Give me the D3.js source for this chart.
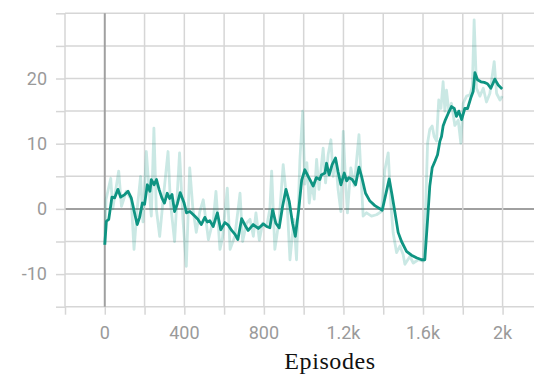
<!DOCTYPE html>
<html>
<head>
<meta charset="utf-8">
<script src="https://cdn.jsdelivr.net/npm/d3@7"></script>
<style>
  body { margin: 0; background: #fff; }
  .tick-label { font-family: Roboto, "Open Sans", sans-serif; font-size: 18px; fill: #9a9a9a; }
  .axis-title { font-family: "Liberation Serif", "DejaVu Serif", serif; font-size: 24px; letter-spacing: 0.6px; fill: #111; }
</style>
</head>
<body>
<svg id="chart" width="534" height="374"></svg>
<script>
// smoothed curve (episode, reward)
const smoothX = [0, 8, 20, 36, 50, 66, 80, 100, 117, 133, 153, 163, 175, 189, 200, 214, 227, 234, 248, 260, 273, 287, 300, 314, 326, 338, 351, 365, 379, 398, 411, 428, 452, 468, 485, 503, 515, 528, 545, 566, 583, 604, 621, 638, 655, 669, 688, 705, 721, 746, 772, 797, 814, 830, 844, 860, 877, 894, 911, 927, 944, 958, 975, 990, 1006, 1026, 1048, 1064, 1081, 1089, 1107, 1115, 1128, 1143, 1160, 1173, 1187, 1204, 1216, 1227, 1244, 1261, 1278, 1291, 1311, 1333, 1358, 1395, 1411, 1430, 1445, 1459, 1475, 1492, 1517, 1542, 1567, 1593, 1609, 1623, 1634, 1646, 1660, 1673, 1685, 1693, 1701, 1713, 1726, 1743, 1757, 1768, 1780, 1794, 1810, 1824, 1840, 1852, 1861, 1874, 1891, 1908, 1924, 1941, 1961, 1978, 1998];
const smoothY = [-5.5, -1.9, -1.6, 1.8, 1.7, 3.0, 1.8, 2.2, 2.7, 1.7, -1.1, -2.4, -1.3, 0.9, 0.7, 3.7, 2.7, 4.5, 3.7, 4.5, 3.0, 1.7, 0.9, 2.4, 1.6, 2.2, -0.4, 0.8, 2.5, 1.0, -0.6, -0.4, -1.1, -1.6, -2.4, -1.3, -2.0, -1.8, -2.7, -0.6, -3.2, -2.1, -2.5, -3.3, -3.9, -4.7, -1.5, -2.5, -3.3, -2.4, -3.0, -2.3, -2.7, -2.9, -0.1, -2.2, -2.9, 0.4, 3.0, 1.2, -2.2, -4.2, -0.1, 4.4, 6.0, 4.8, 3.5, 4.8, 4.5, 5.2, 5.5, 7.0, 5.2, 6.8, 7.8, 5.7, 3.7, 5.5, 4.3, 4.8, 4.5, 3.7, 6.4, 5.0, 2.4, 1.2, 0.5, -0.2, 2.0, 4.6, 2.0, -0.6, -3.6, -5.0, -6.5, -7.1, -7.5, -7.8, -7.8, -1.6, 3.5, 6.3, 7.3, 8.3, 10.4, 11.1, 12.7, 13.7, 14.6, 15.7, 15.4, 14.2, 15.0, 13.7, 15.4, 15.4, 17.0, 18.0, 20.9, 19.8, 19.5, 19.4, 19.2, 18.5, 19.9, 19.0, 18.4];

// raw values (faint line)
const rawX = [0, 6, 30, 40, 70, 84, 108, 133, 147, 163, 180, 192, 209, 220, 234, 247, 259, 276, 292, 318, 330, 351, 376, 393, 410, 427, 443, 460, 477, 495, 521, 546, 559, 579, 592, 616, 630, 654, 680, 693, 713, 730, 747, 760, 777, 794, 814, 830, 839, 855, 877, 897, 917, 931, 951, 964, 981, 995, 1006, 1016, 1028, 1040, 1053, 1065, 1077, 1098, 1110, 1123, 1137, 1148, 1160, 1173, 1187, 1199, 1210, 1220, 1237, 1254, 1278, 1291, 1299, 1316, 1341, 1366, 1391, 1408, 1425, 1438, 1450, 1467, 1484, 1500, 1509, 1534, 1551, 1576, 1601, 1613, 1623, 1634, 1646, 1656, 1668, 1679, 1690, 1701, 1710, 1718, 1730, 1743, 1760, 1777, 1790, 1802, 1819, 1836, 1848, 1857, 1869, 1886, 1903, 1919, 1936, 1958, 1970, 1987, 1998];
const rawY = [-5.5, 1.4, 4.7, 0.0, 5.8, 0.4, 2.7, 1.4, -6.2, 0.0, 5.0, -2.0, 8.8, 4.1, -1.1, 12.4, 0.0, -4.2, 1.0, 8.8, 1.0, -5.0, 8.6, -1.6, -8.8, 6.3, 0.0, -3.6, -0.5, 1.4, -4.7, -1.6, 2.7, -6.2, -4.4, 3.2, -6.2, -4.2, 2.4, -5.0, -2.2, -1.6, -4.2, -0.6, -4.8, -2.2, -2.7, 0.0, 5.8, -6.2, -1.6, 6.8, 0.7, -7.8, -1.6, -7.8, 7.5, 15.0, 3.8, 7.1, 0.9, 4.0, 1.5, 7.6, 3.0, 9.3, 4.0, 8.3, 10.6, 5.0, 7.8, 3.0, -0.4, 11.9, 4.5, -0.6, 6.3, 3.5, 11.4, 3.5, -1.1, -0.6, -1.1, -0.9, -0.4, 6.0, 8.6, 0.9, -3.7, -6.7, -5.7, -7.0, -8.5, -7.3, -8.3, -7.8, -8.0, -0.1, 10.1, 12.2, 12.7, 11.1, 10.4, 16.7, 15.4, 19.5, 15.0, 18.2, 14.9, 16.2, 12.8, 13.6, 10.1, 16.2, 17.3, 17.5, 18.8, 29.0, 18.5, 17.3, 18.5, 16.4, 17.7, 22.6, 17.7, 16.7, 17.3];

const xGrid = [-200, 0, 200, 400, 600, 800, 1000, 1200, 1400, 1600, 1800, 2000];
const xLabelTicks = [0, 400, 800, 1200, 1600, 2000];
const yGrid = [-15, -10, -5, 0, 5, 10, 15, 20, 25, 30];
const yLabelTicks = [-10, 0, 10, 20];

const color = "#0e9482";
const gridColor = "#d6d6d6";
const zeroColor = "#a0a0a0";
const plotLeft = 65, plotRight = 534.4, plotTop = 13.3, plotBottom = 306.7;

const svg = d3.select("#chart");
const x = d3.scaleLinear().domain([-200, 2160]).range([plotLeft, plotRight]);
const y = d3.scaleLinear().domain([-15, 30]).range([plotBottom, plotTop]);

// horizontal grid (with tick stubs on the left)
svg.append("g")
  .attr("transform", `translate(${plotLeft},0)`)
  .call(d3.axisLeft(y).tickValues(yGrid).tickSize(9).tickFormat(""))
  .call((g) => g.select(".domain").remove())
  .call((g) => g.selectAll(".tick line").attr("stroke", gridColor).attr("stroke-width", 1.5));
svg.append("g")
  .call((g) => g.selectAll("line").data(yGrid).join("line")
    .attr("x1", plotLeft).attr("x2", plotRight)
    .attr("y1", (d) => y(d)).attr("y2", (d) => y(d))
    .attr("stroke", (d) => d === 0 ? zeroColor : gridColor)
    .attr("stroke-width", (d) => d === 0 ? 2 : 1.5));

// vertical grid (with tick stubs below)
svg.append("g")
  .attr("transform", `translate(0,${plotBottom})`)
  .call(d3.axisBottom(x).tickValues(xGrid).tickSize(8).tickFormat(""))
  .call((g) => g.select(".domain").remove())
  .call((g) => g.selectAll(".tick line").attr("stroke", gridColor).attr("stroke-width", 1.5));
svg.append("g")
  .call((g) => g.selectAll("line").data(xGrid).join("line")
    .attr("x1", (d) => x(d)).attr("x2", (d) => x(d))
    .attr("y1", plotTop).attr("y2", plotBottom)
    .attr("stroke", (d) => d === 0 ? zeroColor : gridColor)
    .attr("stroke-width", (d) => d === 0 ? 2 : 1.5));

// tick labels
const fmt = (d) => d === 0 ? "0" : (Math.abs(d) >= 1000 ? d3.format("~g")(d / 1000) + "k" : String(d));
svg.append("g").selectAll("text").data(yLabelTicks).join("text")
  .attr("class", "tick-label")
  .attr("x", 47).attr("y", (d) => y(d)).attr("dy", "0.35em")
  .attr("text-anchor", "end")
  .text((d) => String(d));
svg.append("g").selectAll("text").data(xLabelTicks).join("text")
  .attr("class", "tick-label")
  .attr("x", (d) => x(d)).attr("y", 339)
  .attr("text-anchor", "middle")
  .text(fmt);

svg.append("text")
  .attr("class", "axis-title")
  .attr("x", 330).attr("y", 369)
  .attr("text-anchor", "middle")
  .text("Episodes");

// lines
svg.append("clipPath").attr("id", "plot-clip")
  .append("rect").attr("x", plotLeft).attr("y", plotTop)
  .attr("width", plotRight - plotLeft).attr("height", plotBottom - plotTop);

const raw = d3.zip(rawX, rawY);
const smooth = d3.zip(smoothX, smoothY);
const line = d3.line().x((d) => x(d[0])).y((d) => y(d[1]));

const plot = svg.append("g").attr("clip-path", "url(#plot-clip)");
plot.append("path").datum(raw)
  .attr("fill", "none").attr("stroke", color).attr("stroke-opacity", 0.22)
  .attr("stroke-width", 2.8).attr("stroke-linejoin", "round")
  .attr("d", line);
plot.append("path").datum(smooth)
  .attr("fill", "none").attr("stroke", color)
  .attr("stroke-width", 2.8).attr("stroke-linejoin", "round")
  .attr("d", line);
</script>
</body>
</html>
